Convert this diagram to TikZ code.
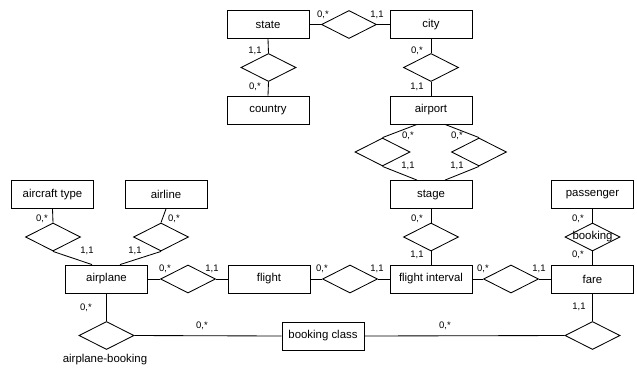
\documentclass[tikz,border=0pt]{standalone}
\usepackage{fontspec}
\setmainfont{Liberation Sans}
\usetikzlibrary{shapes.geometric}
\begin{document}
\begin{tikzpicture}[x=1pt,y=-1pt,
  line width=0.85pt,
  entity/.style={draw,rectangle,minimum width=82pt,minimum height=28pt,inner sep=0pt,font=\fontsize{11.4}{13}\selectfont},
  rel/.style={draw,diamond,minimum width=55pt,minimum height=28pt,inner sep=0pt},
  card/.style={inner sep=0pt,font=\fontsize{9.5}{11}\selectfont},
  caption/.style={inner sep=0pt,font=\fontsize{11.4}{13}\selectfont}]
\useasboundingbox (0,0) rectangle (637,368);

% entities
\node[entity] (state)     at (268,24.5)  {state};
\node[entity] (city)      at (431,24.5)  {city};
\node[entity] (country)   at (268,110)   {country};
\node[entity] (airport)   at (431,110)   {airport};
\node[entity] (stage)     at (431,194.5) {stage};
\node[entity] (actype)    at (52.5,194.5) {aircraft type};
\node[entity] (airline)   at (166,194.5) {airline};
\node[entity] (passenger) at (592.5,194.5) {passenger};
\node[entity] (airplane)  at (106.5,279) {airplane};
\node[entity] (flight)    at (269,279)   {flight};
\node[entity] (finterval) at (431,279)   {flight interval};
\node[entity] (fare)      at (592.5,279) {fare};
\node[entity] (bclass)    at (323,336)   {booking class};

% relationships
\node[rel] (rStateCity)    at (349,24.5) {};
\node[rel] (rStateCountry) at (268.5,67.5) {};
\node[rel] (rCityAirport)  at (431,67.5) {};
\node[rel] (rDepart)       at (382.5,152) {};
\node[rel] (rArrive)       at (479,152) {};
\node[rel] (rActype)       at (53,237) {};
\node[rel] (rAirline)      at (161,237) {};
\node[rel] (rStageFi)      at (431,237) {};
\node[rel,label={center:\fontsize{11.4}{13}\selectfont booking}] (rBooking) at (592.5,237) {};
\node[rel] (rPlaneFlight)  at (188,279) {};
\node[rel] (rFlightFi)     at (350,279) {};
\node[rel] (rFiFare)       at (511,279) {};
\node[rel] (rPlaneBook)    at (106.5,335.5) {};
\node[rel] (rFareBook)     at (592.5,335.5) {};

% connectors
\draw (state.east) -- (rStateCity.west);
\draw (rStateCity.east) -- (city.west);
\draw (state.south) -- (rStateCountry.north);
\draw (rStateCountry.south) -- (country.north);
\draw (city.south) -- (rCityAirport.north);
\draw (rCityAirport.south) -- (airport.north);
\draw ([xshift=-14pt]airport.south) -- (rDepart.north);
\draw (rDepart.south) -- ([xshift=-14pt]stage.north);
\draw ([xshift=14pt]airport.south) -- (rArrive.north);
\draw (rArrive.south) -- ([xshift=14pt]stage.north);
\draw (stage.south) -- (rStageFi.north);
\draw (rStageFi.south) -- (finterval.north);
\draw (actype.south) -- (rActype.north);
\draw (rActype.south) -- ([xshift=-14.5pt]airplane.north);
\draw (airline.south) -- (rAirline.north);
\draw (rAirline.south) -- ([xshift=13.5pt]airplane.north);
\draw (passenger.south) -- (rBooking.north);
\draw (rBooking.south) -- (fare.north);
\draw (airplane.east) -- (rPlaneFlight.west);
\draw (rPlaneFlight.east) -- (flight.west);
\draw (flight.east) -- (rFlightFi.west);
\draw (rFlightFi.east) -- (finterval.west);
\draw (finterval.east) -- (rFiFare.west);
\draw (rFiFare.east) -- (fare.west);
\draw (airplane.south) -- (rPlaneBook.north);
\draw (rPlaneBook.east) -- (bclass.west);
\draw (fare.south) -- (rFareBook.north);
\draw (bclass.east) -- (rFareBook.west);

% cardinalities
\node[card] (c1)  at (323,15)  {0,*};
\node[card] (c2)  at (377,15)  {1,1};
\node[card] (c3)  at (255,51)  {1,1};
\node[card] (c4)  at (255,87)  {0,*};
\node[card] (c5)  at (417,51)  {0,*};
\node[card] (c6)  at (417,87)  {1,1};
\node[card] (c7)  at (408,136) {0,*};
\node[card] (c8)  at (408,166) {1,1};
\node[card] (c9)  at (457,136) {0,*};
\node[card] (c10) at (457,166) {1,1};
\node[card] (c11) at (42,219)  {0,*};
\node[card] (c12) at (87,251)  {1,1};
\node[card] (c13) at (174,219) {0,*};
\node[card] (c14) at (135,251) {1,1};
\node[card] (c15) at (417,219) {0,*};
\node[card] (c16) at (417,255) {1,1};
\node[card] (c17) at (578,219) {0,*};
\node[card] (c18) at (578,255) {0,*};
\node[card] (c19) at (165,269) {0,*};
\node[card] (c20) at (212,269) {1,1};
\node[card] (c21) at (322,269) {0,*};
\node[card] (c22) at (377,269) {1,1};
\node[card] (c23) at (483,269) {0,*};
\node[card] (c24) at (539,269) {1,1};
\node[card] (c25) at (86,308)  {0,*};
\node[card] (c26) at (579,307) {1,1};
\node[card] (c27) at (202,326) {0,*};
\node[card] (c28) at (445,326) {0,*};

\node[caption] (abLabel) at (105,360) {airplane-booking};
\end{tikzpicture}
\end{document}
